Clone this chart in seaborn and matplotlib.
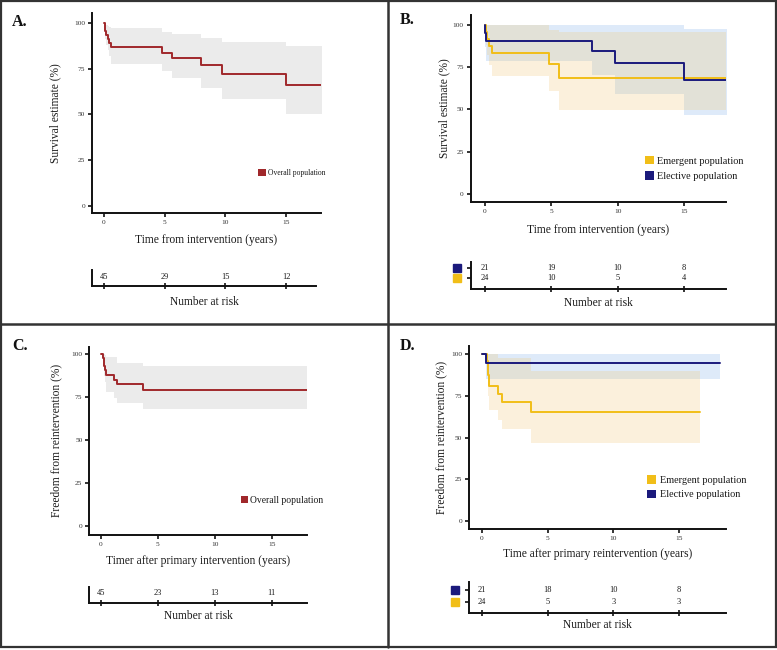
import matplotlib
matplotlib.use("Agg")
import matplotlib.pyplot as plt
import seaborn as sns
from matplotlib.patches import Patch, Rectangle
from matplotlib.lines import Line2D

# ---------------- data ----------------
risk_times = [0, 5, 10, 15]
y_ticks = [0, 25, 50, 75, 100]

# Panel A: overall survival
a_time = [0, 0.05, 0.12, 0.2, 0.3, 0.4, 0.55, 4.8, 5.6, 8.0, 9.7, 15.0, 18.1]
a_surv = [100, 97.8, 95.6, 93.3, 91.1, 88.9, 86.7, 83.7, 80.8, 77.2, 72.3, 66.1, 66.1]
a_low = [100, 94, 91, 88, 85, 82, 77.4, 73.8, 69.8, 64.6, 58.3, 50.4, 50.4]
a_high = [100, 100, 99.5, 99, 98.5, 98, 97, 95.3, 93.8, 92, 89.8, 87.4, 87.4]
a_risk = [45, 29, 15, 12]

# Panel B: survival by group
b_el_time = [0, 0.03, 0.12, 8.05, 9.8, 15.0, 18.2]
b_el_surv = [100, 95.2, 90.5, 84.8, 77.6, 67.2, 67.2]
b_el_low = [100, 87, 78.7, 70.3, 58.9, 46.5, 46.5]
b_el_high = [100, 100, 100, 100, 100, 97.4, 97.4]
b_em_time = [0, 0.07, 0.2, 0.32, 0.55, 4.8, 5.6, 18.15]
b_em_surv = [100, 95.8, 91.7, 87.5, 83.3, 77.1, 68.8, 68.8]
b_em_low = [100, 88, 82, 76, 69.8, 61, 49.4, 49.4]
b_em_high = [100, 100, 100, 100, 100, 97, 95.6, 95.6]
b_risk_el = [21, 19, 10, 8]
b_risk_em = [24, 10, 5, 4]

# Panel C: freedom from reintervention, overall
c_time = [0, 0.2, 0.27, 0.33, 0.4, 0.5, 1.2, 1.4, 3.7, 18.1]
c_surv = [100, 97.8, 95.5, 93.2, 90.9, 87.8, 85.0, 82.7, 79.4, 79.4]
c_low = [100, 93.5, 90.5, 87.5, 84, 78.3, 74.4, 71.9, 68.0, 68.0]
c_high = [100, 100, 100, 100, 99.5, 98.4, 98.4, 95.1, 93.2, 93.2]
c_risk = [45, 23, 13, 11]

# Panel D: freedom from reintervention by group
d_el_time = [0, 0.3, 18.15]
d_el_surv = [100, 94.8, 94.8]
d_el_low = [100, 85.2, 85.2]
d_el_high = [100, 100, 100]
d_em_time = [0, 0.35, 0.45, 0.55, 1.2, 1.5, 3.7, 16.6]
d_em_surv = [100, 95.8, 87.5, 81.2, 76.3, 71.4, 65.1, 65.1]
d_em_low = [100, 88, 75, 66.3, 60.5, 54.9, 46.9, 46.9]
d_em_high = [100, 100, 100, 100, 98, 98, 90.1, 90.1]
d_risk_el = [21, 18, 10, 8]
d_risk_em = [24, 5, 3, 3]

labels_overall = ["Overall population"]
labels_groups = ["Emergent population", "Elective population"]

# ---------------- style ----------------
RED = "#A0282B"
NAVY = "#1B1A7C"
YELLOW = "#F1BE18"
GRAY_FILL = "#EBEBEB"
BLUE_FILL = "#A9C8F0"
PEACH_FILL = "#F0C878"
TXT = "#1a1a1a"

sns.set_style("ticks")
plt.rcParams["font.family"] = ["Liberation Serif", "DejaVu Serif"]

W, H = 777, 650
fig = plt.figure(figsize=(W / 100, H / 100), dpi=100)


def box(l, t, r, b):
    return [l / W, 1 - b / H, (r - l) / W, (b - t) / H]


def style_axes(ax):
    sns.despine(ax=ax)
    for s in ("left", "bottom"):
        ax.spines[s].set_linewidth(1.4)
        ax.spines[s].set_color("#111111")


def main_axes(l, t, r, b, x0, pxyr, y0p, y100p):
    ax = fig.add_axes(box(l, t, r, b))
    ax.set_facecolor("none")
    ax.set_xlim((l - x0) / pxyr, (r - x0) / pxyr)
    pxu = (y0p - y100p) / 100
    ax.set_ylim((y0p - b) / pxu, (y0p - t) / pxu)
    style_axes(ax)
    ax.set_xticks(risk_times)
    ax.set_yticks(y_ticks)
    ax.tick_params(axis="both", direction="out", length=3, width=1.2,
                   labelsize=5.3, pad=2, color="#111111", labelcolor="#333333")
    return ax


def km_band(ax, t, lo, hi, fill, alpha):
    ax.fill_between(t, lo, hi, step="post", color=fill, alpha=alpha, lw=0)


def km_line(ax, t, s, color, lw=1.4):
    sns.lineplot(x=t, y=s, ax=ax, color=color, lw=lw, drawstyle="steps-post",
                 estimator=None, sort=False, legend=False)


def set_labels(ax, xlab, ylab, l, t, r, b, xlab_y, ylab_x):
    ax.set_xlabel(xlab, fontsize=8.3, color=TXT)
    ax.set_ylabel(ylab, fontsize=8.3, color=TXT)
    ax.xaxis.set_label_coords(0.5, (b - xlab_y) / (b - t))
    ax.xaxis.label.set_va("center")
    ax.yaxis.set_label_coords((ylab_x - l) / (r - l), 0.5)
    ax.yaxis.label.set_va("center")


def risk_axes(l, t, r, b, x0, pxyr, rows_pix, label_y):
    ax = fig.add_axes(box(l, t, r, b))
    ax.set_facecolor("none")
    ax.set_xlim((l - x0) / pxyr, (r - x0) / pxyr)
    y0p, pxu = rows_pix
    ax.set_ylim((y0p - b) / pxu, (y0p - t) / pxu)
    style_axes(ax)
    ax.set_xticks(risk_times)
    ax.set_xticklabels([])
    ax.tick_params(axis="x", direction="inout", length=5, width=1.2, color="#111111")
    ax.set_xlabel("Number at risk", fontsize=8.3, color=TXT)
    ax.xaxis.set_label_coords(0.5, (b - label_y) / (b - t))
    ax.xaxis.label.set_va("center")
    return ax


def legend(ax, labels, colors, xfrac, yfrac, fs, hsize, pad, spacing=0.4):
    handles = [Patch(facecolor=c, edgecolor="none") for c in colors]
    ax.legend(handles, labels, loc="center left", bbox_to_anchor=(xfrac, yfrac),
              frameon=False, fontsize=fs, handlelength=hsize, handleheight=hsize,
              handletextpad=pad, borderpad=0, borderaxespad=0, labelspacing=spacing,
              labelcolor=TXT)


# ---------------- Panel A ----------------
A = dict(l=92, t=13, r=321, b=213, x0=104, pxyr=12.14, y0p=206, y100p=23)
axA = main_axes(**A)
km_band(axA, a_time, a_low, a_high, GRAY_FILL, 1.0)
km_line(axA, a_time, a_surv, RED)
set_labels(axA, "Time from intervention (years)", "Survival estimate (%)",
           A["l"], A["t"], A["r"], A["b"], 239.5, 55)
legend(axA, labels_overall, [RED], (258.3 - 92) / (321 - 92), (213 - 173.3) / 200,
       5.5, 0.95, 0.35)
rA = risk_axes(92, 270, 316, 286, 104, 12.14, (277, 9), 302)
rA.set_yticks([])
for x, n in zip(risk_times, a_risk):
    rA.text(x, 0, str(n), ha="center", va="center", fontsize=6, color=TXT)

# ---------------- Panel B ----------------
B = dict(l=470.7, t=15, r=726.3, b=202, x0=484.7, pxyr=13.3, y0p=193.7, y100p=25)
axB = main_axes(**B)
km_band(axB, b_el_time, b_el_low, b_el_high, BLUE_FILL, 0.38)
km_band(axB, b_em_time, b_em_low, b_em_high, PEACH_FILL, 0.26)
km_line(axB, b_em_time, b_em_surv, YELLOW)
km_line(axB, b_el_time, b_el_surv, NAVY)
set_labels(axB, "Time from intervention (years)", "Survival estimate (%)",
           B["l"], B["t"], B["r"], B["b"], 230, 444.7)
legend(axB, labels_groups, [YELLOW, NAVY], (644.7 - 470.7) / (726.3 - 470.7),
       (202 - 168.5) / (202 - 15), 7.35, 0.9, 0.35, 0.55)
rB = risk_axes(470.7, 261.7, 726.3, 288.7, 484.7, 13.3, (278.3, 10), 303.3)
rB.set_yticks([0, 1])
rB.set_yticklabels([])
rB.tick_params(axis="y", direction="out", length=3, width=1.2, color="#111111")
for x, n1, n0 in zip(risk_times, b_risk_el, b_risk_em):
    rB.text(x, 1, str(n1), ha="center", va="center", fontsize=6, color=TXT)
    rB.text(x, 0, str(n0), ha="center", va="center", fontsize=6, color=TXT)
sq_x = (457.3 - 484.7) / 13.3
rB.plot([sq_x], [1], marker="s", ms=6, color=NAVY, clip_on=False, lw=0)
rB.plot([sq_x], [0], marker="s", ms=6, color=YELLOW, clip_on=False, lw=0)

# ---------------- Panel C ----------------
C = dict(l=89.3, t=346.7, r=307.3, b=535, x0=100.7, pxyr=11.4, y0p=526.3, y100p=354.3)
axC = main_axes(**C)
km_band(axC, c_time, c_low, c_high, GRAY_FILL, 1.0)
km_line(axC, c_time, c_surv, RED)
set_labels(axC, "Timer after primary intervention (years)", "Freedom from reintervention (%)",
           C["l"], C["t"], C["r"], C["b"], 560.7, 56.7)
legend(axC, labels_overall, [RED], (240.7 - 89.3) / (307.3 - 89.3),
       (535 - 500.3) / (535 - 346.7), 6.9, 0.75, 0.25)
rC = risk_axes(89.3, 586.7, 307.3, 602.7, 100.7, 11.4, (593, 9), 616)
rC.set_yticks([])
for x, n in zip(risk_times, c_risk):
    rC.text(x, 0, str(n), ha="center", va="center", fontsize=6, color=TXT)

# ---------------- Panel D ----------------
D = dict(l=469, t=346, r=726.3, b=529, x0=482, pxyr=13.13, y0p=520.7, y100p=354.3)
axD = main_axes(**D)
km_band(axD, d_el_time, d_el_low, d_el_high, BLUE_FILL, 0.38)
km_band(axD, d_em_time, d_em_low, d_em_high, PEACH_FILL, 0.26)
km_line(axD, d_em_time, d_em_surv, YELLOW)
km_line(axD, d_el_time, d_el_surv, NAVY)
set_labels(axD, "Time after primary reintervention (years)", "Freedom from reintervention (%)",
           D["l"], D["t"], D["r"], D["b"], 554.3, 441.3)
legend(axD, labels_groups, [YELLOW, NAVY], (647.3 - 469) / (726.3 - 469),
       (529 - 487.3) / (529 - 346), 7.35, 0.9, 0.35, 0.45)
rD = risk_axes(469, 581.7, 726.3, 613.3, 482, 13.13, (602, 12), 625)
rD.set_yticks([0, 1])
rD.set_yticklabels([])
rD.tick_params(axis="y", direction="out", length=3, width=1.2, color="#111111")
for x, n1, n0 in zip(risk_times, d_risk_el, d_risk_em):
    rD.text(x, 1, str(n1), ha="center", va="center", fontsize=6, color=TXT)
    rD.text(x, 0, str(n0), ha="center", va="center", fontsize=6, color=TXT)
sq_x = (454.7 - 482) / 13.13
rD.plot([sq_x], [1], marker="s", ms=6.3, color=NAVY, clip_on=False, lw=0)
rD.plot([sq_x], [0], marker="s", ms=6.3, color=YELLOW, clip_on=False, lw=0)

# ---------------- panel letters ----------------
for letter, x, y in [("A.", 12, 21.5), ("B.", 400, 20), ("C.", 12, 346), ("D.", 400, 346)]:
    fig.text(x / W, 1 - y / H, letter, fontsize=11.5, fontweight="bold",
             ha="left", va="center", color="#111111")

# ---------------- frame & dividers ----------------
fig.add_artist(Rectangle((1.2 / W, 1 - 647 / H), (775.6 - 1.2) / W, (647 - 1.2) / H,
                         transform=fig.transFigure, fill=False, ec="#333333", lw=1.6))
fig.add_artist(Line2D([387.5 / W, 387.5 / W], [1 - 1 / H, 1 - 647 / H],
                      transform=fig.transFigure, color="#333333", lw=1.8))
fig.add_artist(Line2D([1 / W, 776 / W], [1 - 324 / H, 1 - 324 / H],
                      transform=fig.transFigure, color="#333333", lw=1.8))

fig.savefig("out.png", dpi=100, facecolor="white")
